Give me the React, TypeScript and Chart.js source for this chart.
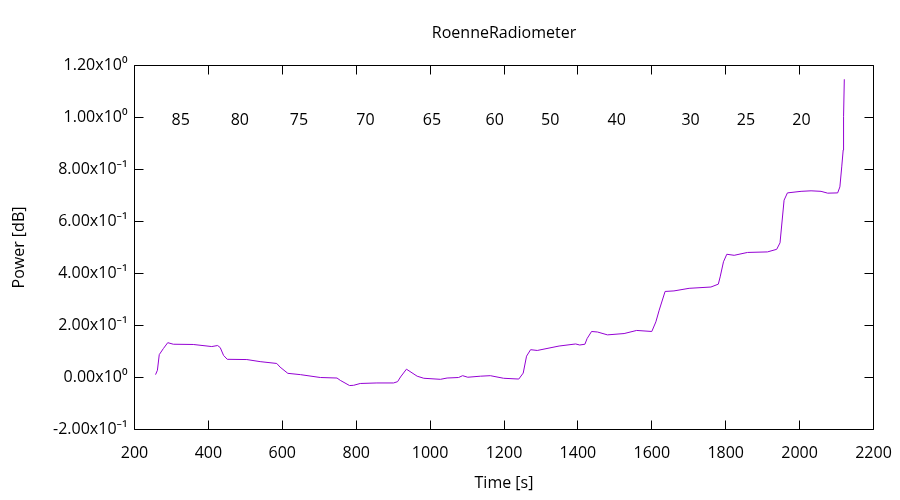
import React, { useEffect, useRef } from "react";
import { Chart, registerables } from "chart.js";

Chart.register(...registerables);

const timeS = [
  257, 262, 267, 278, 290, 305, 359, 409, 425, 432, 441, 451, 504, 540, 585, 594, 615, 649, 703, 748,
  757, 782, 793, 811, 856, 901, 912, 920, 936, 965, 983, 1028, 1046, 1077, 1088, 1102, 1136, 1163, 1199, 1240,
  1252, 1261, 1272, 1290, 1349, 1394, 1405, 1419, 1425, 1437, 1453, 1480, 1525, 1559, 1600, 1611, 1620, 1636, 1660, 1701,
  1760, 1780, 1785, 1794, 1803, 1823, 1859, 1913, 1938, 1947, 1958, 1967, 2004, 2031, 2058, 2076, 2103, 2109, 2114, 2118,
  2119, 2121,
];
const powerDb = [
  0.011, 0.028, 0.088, 0.111, 0.134, 0.128, 0.127, 0.119, 0.123, 0.115, 0.085, 0.07, 0.069, 0.061, 0.054, 0.04, 0.016, 0.011, 0.0, -0.002,
  -0.011, -0.031, -0.03, -0.023, -0.021, -0.021, -0.016, 0.002, 0.032, 0.005, -0.003, -0.007, -0.002, 0.0, 0.007, 0.001, 0.005, 0.007, -0.003, -0.006,
  0.017, 0.082, 0.107, 0.104, 0.121, 0.129, 0.125, 0.128, 0.15, 0.177, 0.175, 0.164, 0.169, 0.181, 0.177, 0.214, 0.259, 0.331, 0.333, 0.343,
  0.348, 0.359, 0.387, 0.445, 0.474, 0.47, 0.481, 0.483, 0.493, 0.518, 0.682, 0.71, 0.716, 0.718, 0.716, 0.709, 0.71, 0.733, 0.81, 0.875,
  1.003, 1.147,
];

const labelTexts = ["85", "80", "75", "70", "65", "60", "50", "40", "30", "25", "20"];
const labelX = [325, 485, 645, 825, 1005, 1175, 1325, 1505, 1705, 1855, 2005];
const labelY = 1.0;

const xTickLabels = ["200", "400", "600", "800", "1000", "1200", "1400", "1600", "1800", "2000", "2200"];
const yTickLabels = [
  "-2.00x10⁻¹", "0.00x10⁰", "2.00x10⁻¹", "4.00x10⁻¹", "6.00x10⁻¹",
  "8.00x10⁻¹", "1.00x10⁰", "1.20x10⁰",
];

const FONT = "'Open Sans', 'Noto Sans', sans-serif";

const framePlugin = {
  id: "gnuplotFrame",
  afterDatasetsDraw(chart: any) {
    const { ctx, chartArea, scales } = chart;
    const { left, right, top, bottom } = chartArea;
    const xs = scales.x;
    const ys = scales.y;
    ctx.save();
    ctx.fillStyle = "#000";
    ctx.font = `16px ${FONT}`;
    ctx.textAlign = "center";
    ctx.textBaseline = "alphabetic";
    labelTexts.forEach((t, i) => {
      ctx.fillText(t, xs.getPixelForValue(labelX[i]), ys.getPixelForValue(labelY) + 7);
    });
    ctx.strokeStyle = "#000";
    ctx.lineWidth = 1;
    ctx.beginPath();
    ctx.rect(left, top, right - left, bottom - top);
    ctx.stroke();
    const tl = 9;
    ctx.beginPath();
    xs.ticks.forEach((t: any) => {
      const p = Math.round(xs.getPixelForValue(t.value) - 0.5) + 0.5;
      ctx.moveTo(p, bottom);
      ctx.lineTo(p, bottom - tl);
      ctx.moveTo(p, top);
      ctx.lineTo(p, top + tl);
    });
    ys.ticks.forEach((t: any) => {
      const p = Math.round(ys.getPixelForValue(t.value) - 0.5) + 0.5;
      ctx.moveTo(left, p);
      ctx.lineTo(left + tl, p);
      ctx.moveTo(right, p);
      ctx.lineTo(right - tl, p);
    });
    ctx.stroke();
    ctx.restore();
  },
};

export default function App() {
  const ref = useRef<HTMLCanvasElement>(null);
  useEffect(() => {
    if (!ref.current) return;
    Chart.defaults.font.family = FONT;
    Chart.defaults.font.size = 16;
    Chart.defaults.color = "#000";
    const chart = new Chart(ref.current, {
      type: "line",
      data: {
        datasets: [
          {
            label: "RoenneRadiometer",
            data: timeS.map((t, i) => ({ x: t, y: powerDb[i] })),
            borderColor: "#9400D3",
            backgroundColor: "#9400D3",
            borderWidth: 1,
            pointRadius: 0,
            tension: 0,
            fill: false,
          },
        ],
      },
      options: {
        animation: false,
        responsive: false,
        devicePixelRatio: 1,
        layout: { padding: { left: 0, top: 0, right: 26.5, bottom: 0 } },
        plugins: {
          legend: { display: false },
          tooltip: { enabled: false },
          title: {
            display: true,
            text: "RoenneRadiometer",
            fullSize: false,
            color: "#000",
            font: { size: 16, weight: "normal", family: FONT },
            padding: { top: 23.4, bottom: 22.9 },
          },
        },
        scales: {
          x: {
            type: "linear",
            min: 200,
            max: 2200,
            ticks: {
              stepSize: 200,
              padding: 14,
              maxRotation: 0,
              autoSkip: false,
              callback: (_v: any, i: number) => xTickLabels[i],
            },
            grid: { display: false, drawTicks: false },
            border: { display: false },
            title: {
              display: true,
              text: "Time [s]",
              font: { size: 16, family: FONT },
              padding: { top: 0, bottom: 7.4 },
            },
            afterFit: (s: any) => {
              s.height = 70.5;
              s.paddingLeft = 0;
              s.paddingRight = 0;
            },
          },
          y: {
            type: "linear",
            min: -0.2,
            max: 1.2,
            ticks: {
              stepSize: 0.2,
              padding: 7,
              autoSkip: false,
              callback: (_v: any, i: number) => yTickLabels[i],
            },
            grid: { display: false, drawTicks: false },
            border: { display: false },
            title: {
              display: true,
              text: "Power [dB]",
              font: { size: 16, family: FONT },
              padding: { top: 9.4, bottom: 0 },
            },
            afterFit: (s: any) => {
              s.width = 134.5;
              s.paddingTop = 0;
              s.paddingBottom = 0;
            },
          },
        },
      },
      plugins: [framePlugin],
    });
    return () => chart.destroy();
  }, []);
  return (
    <div style={{ position: "fixed", left: 0, top: 0, width: 900, height: 500, background: "#fff" }}>
      <canvas ref={ref} width={900} height={500} style={{ width: 900, height: 500 }} />
    </div>
  );
}
